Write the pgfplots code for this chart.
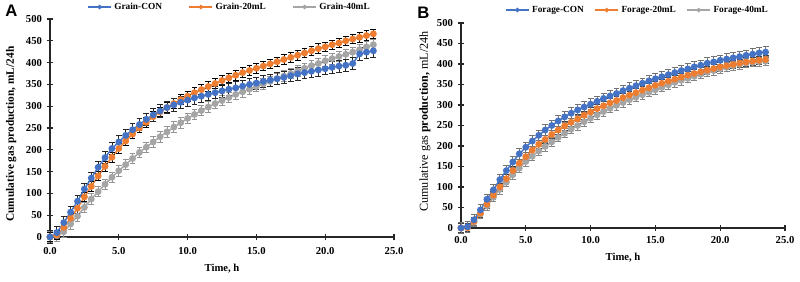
\documentclass[border=0pt]{standalone}
\usepackage{pgfplots}
\usepackage{pgfplotstable}
\pgfplotsset{compat=1.18}
\usepackage{fontspec}
\setmainfont{Liberation Serif}
\newfontfamily\panelfont{Liberation Sans}

\definecolor{conblue}{HTML}{4472C4}
\definecolor{mlorange}{HTML}{ED7D31}
\definecolor{mlgray}{HTML}{A5A5A5}

% Cumulative gas production, mL/24h (grain substrate)
\pgfplotstableread{
t    con  ml20 ml40
0.0  0    0    0
0.5  10   5    3
1.0  33   22   12
1.5  57   43   30
2.0  82   66   48
2.5  110  92   68
3.0  135  116  87
3.5  160  140  104
4.0  182  162  121
4.5  203  183  137
5.0  218  203  152
5.5  233  220  166
6.0  246  236  180
6.5  258  250  194
7.0  270  263  206
7.5  280  276  218
8.0  289  287  230
8.5  297  297  241
9.0  303  306  252
9.5  309  315  262
10.0 314  323  272
10.5 319  331  281
11.0 323  338  290
11.5 327  345  298
12.0 331  352  306
12.5 335  359  313
13.0 339  365  320
13.5 342  371  327
14.0 346  377  333
14.5 350  382  339
15.0 353  387  345
15.5 357  392  351
16.0 360  397  357
16.5 363  402  363
17.0 366  407  369
17.5 370  412  375
18.0 374  417  381
18.5 377  422  387
19.0 380  427  393
19.5 383  432  398
20.0 386  436  404
20.5 389  441  409
21.0 392  445  414
21.5 394  450  419
22.0 398  454  424
22.5 420  458  430
23.0 424  462  436
23.5 427  466  441
}\grain

% Cumulative gas production, mL/24h (forage substrate)
\pgfplotstableread{
t    con  ml20 ml40
0.0  0    0    0
0.5  3    1    1
1.0  20   16   15
1.5  44   36   34
2.0  70   58   54
2.5  93   80   75
3.0  118  100  94
3.5  140  120  112
4.0  161  140  130
4.5  181  158  146
5.0  197  174  162
5.5  212  190  175
6.0  226  204  188
6.5  239  216  199
7.0  250  228  210
7.5  261  239  221
8.0  271  249  231
8.5  280  258  241
9.0  288  266  250
9.5  295  275  259
10.0 302  283  268
10.5 309  291  276
11.0 316  298  284
11.5 322  305  292
12.0 328  311  299
12.5 335  318  306
13.0 341  324  313
13.5 347  330  319
14.0 353  336  325
14.5 359  342  331
15.0 364  348  337
15.5 369  353  343
16.0 374  358  349
16.5 379  363  355
17.0 384  368  360
17.5 388  373  365
18.0 393  377  370
18.5 397  381  375
19.0 402  385  380
19.5 405  389  384
20.0 409  393  388
20.5 412  396  392
21.0 415  399  396
21.5 418  402  399
22.0 421  405  402
22.5 424  407  404
23.0 427  409  406
23.5 429  411  407
}\forage

\pgfplotsset{
  gasaxis/.style={
    scale only axis,
    axis lines=left,
    axis line style={-, black!85, line width=0.8pt},
    xmin=0, xmax=25, ymin=0, ymax=500,
    xtick={0,5,...,25}, ytick={0,50,...,500},
    tick align=center,
    major tick length=5pt,
    tick style={black!85, line width=0.8pt},
    /pgf/number format/assume math mode=true,
    ticklabel style={font=\bfseries\fontsize{8}{9}\selectfont},
    xticklabel style={/pgf/number format/fixed, /pgf/number format/fixed zerofill, /pgf/number format/precision=1},
    yticklabel style={/pgf/number format/fixed, /pgf/number format/precision=0},
    clip=false,
    legend columns=3,
    legend cell align=left,
    legend style={draw=none, fill=none, font=\bfseries\fontsize{7}{8}\selectfont},
    legend image post style={mark size=1.1pt},
  },
  series/.style={color=#1, line width=1.1pt, mark=*, mark size=2pt,
    mark options={fill=#1, draw=#1}},
  errs/.style 2 args={
    /pgfplots/error bars/y dir=both,
    /pgfplots/error bars/y fixed=#1,
    /pgfplots/error bars/error bar style={line width=0.6pt, draw=#2},
    /pgfplots/error bars/error mark options={rotate=90, mark size=2.2pt, line width=0.6pt, draw=#2}},
}

\begin{document}
\begin{tikzpicture}
\path[use as bounding box] (0,0) rectangle (600pt,211.5pt);

\node[font=\panelfont\bfseries\fontsize{12.5}{13}\selectfont, anchor=north west] at (0.5pt,211pt) {A};
\node[font=\panelfont\bfseries\fontsize{12.5}{13}\selectfont, anchor=north west] at (309.5pt,210pt) {B};

\begin{axis}[gasaxis,
  at={(37.5pt,33.75pt)}, anchor=south west,
  width=258pt, height=163.5pt,
  xticklabel style={/tikz/yshift=-2pt},
  xlabel={\bfseries\fontsize{8}{9}\selectfont Time, h},
  xlabel style={at={(axis description cs:0.5,-0.147)}, anchor=center},
  ylabel={\bfseries\fontsize{8.5}{9}\selectfont Cumulative gas production, mL/24h},
  ylabel style={at={(axis description cs:-0.113,0.472)}, anchor=center},
]
\addplot[series=mlgray, errs={12}{mlgray!90!black}] table[x=t, y=ml40] {\grain};
\addplot[series=mlorange, errs={11}{black}] table[x=t, y=ml20] {\grain};
\addplot[series=conblue, errs={14}{black!85}] table[x=t, y=con] {\grain};
\end{axis}

% Legend row for panel A, listed in the order CON, 20 mL, 40 mL
\begin{axis}[gasaxis, at={(37.5pt,33.75pt)}, anchor=south west,
  width=258pt, height=163.5pt, hide axis,
  legend style={at={(axis description cs:0.523,1.055)}, anchor=center,
    /tikz/every even column/.append style={column sep=18pt}}]
\addlegendimage{series=conblue}\addlegendentry{Grain-CON}
\addlegendimage{series=mlorange}\addlegendentry{Grain-20mL}
\addlegendimage{series=mlgray}\addlegendentry{Grain-40mL}
\end{axis}

\begin{axis}[gasaxis,
  at={(345.75pt,40.5pt)}, anchor=south west,
  width=243pt, height=153.75pt,
  xlabel={\bfseries\fontsize{8}{9}\selectfont Time, h},
  xlabel style={at={(axis description cs:0.5,-0.146)}, anchor=center},
  ylabel={\fontsize{9.1}{10}\selectfont Cumulative gas \textbf{production,} mL/24h},
  ylabel style={at={(axis description cs:-0.111,0.52)}, anchor=center},
]
\addplot[series=mlgray, errs={11}{mlgray!80!black}] table[x=t, y=ml40] {\forage};
\addplot[series=mlorange, errs={10}{black!75}] table[x=t, y=ml20] {\forage};
\addplot[series=conblue, errs={13}{black!55}] table[x=t, y=con] {\forage};
\end{axis}

\begin{axis}[gasaxis, at={(345.75pt,40.5pt)}, anchor=south west,
  width=243pt, height=153.75pt, hide axis,
  legend style={at={(axis description cs:0.546,1.063)}, anchor=center,
    /tikz/every even column/.append style={column sep=6pt}}]
\addlegendimage{series=conblue}\addlegendentry{Forage-CON}
\addlegendimage{series=mlorange}\addlegendentry{Forage-20mL}
\addlegendimage{series=mlgray}\addlegendentry{Forage-40mL}
\end{axis}
\end{tikzpicture}
\end{document}
